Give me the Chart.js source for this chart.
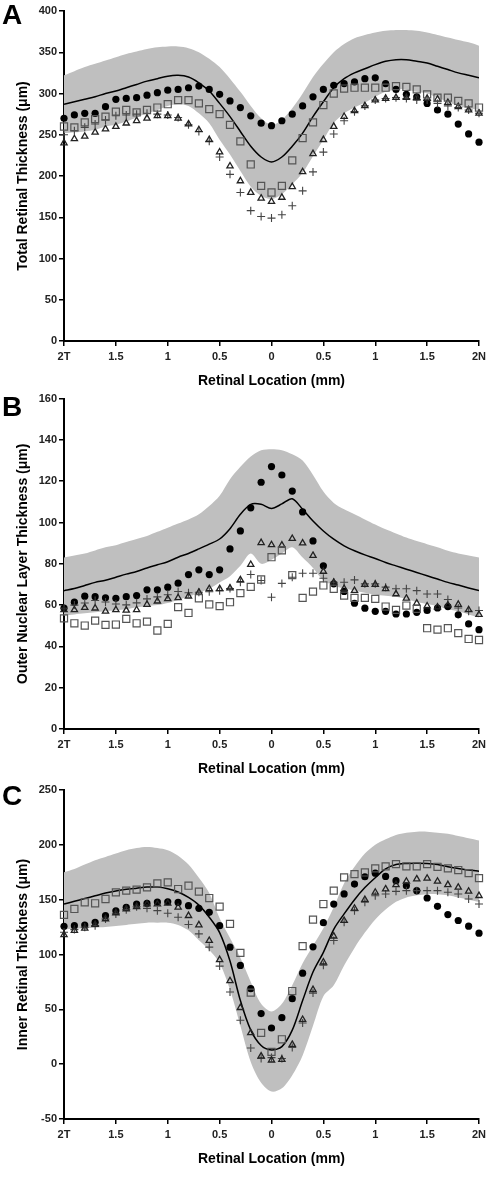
<!DOCTYPE html>
<html>
<head>
<meta charset="utf-8">
<script src="https://cdn.jsdelivr.net/npm/chart.js@4/dist/chart.umd.min.js"></script>
<style>
  body { margin: 0; background: #fff; width: 492px; height: 1198px; position: relative; overflow: hidden; }
  .panel { position: absolute; left: 0; width: 492px; }
  .letter { position: absolute; left: 2px; font: bold 28px "Liberation Sans", Arial, sans-serif; line-height: 1; color: #000; }
</style>
</head>
<body>
<div class="panel" style="top:0;height:390px"><canvas id="chartA"></canvas></div>
<div class="panel" style="top:390px;height:388px"><canvas id="chartB"></canvas></div>
<div class="panel" style="top:778px;height:390px"><canvas id="chartC"></canvas></div>
<div class="letter" style="top:1px">A</div>
<div class="letter" style="top:393px">B</div>
<div class="letter" style="top:782px">C</div>
<script>
// retinal location, mm (negative = temporal, positive = nasal)
const loc = [-2, -1.9, -1.8, -1.7, -1.6, -1.5, -1.4, -1.3, -1.2, -1.1, -1, -0.9, -0.8, -0.7, -0.6, -0.5, -0.4, -0.3, -0.2, -0.1,
  0, 0.1, 0.2, 0.3, 0.4, 0.5, 0.6, 0.7, 0.8, 0.9, 1, 1.1, 1.2, 1.3, 1.4, 1.5, 1.6, 1.7, 1.8, 1.9, 2];

// A - total retinal thickness
const totalCircle = [270, 274, 276, 276, 284, 293, 294, 295, 298, 301, 304, 305, 307, 309, 305, 299, 291, 283, 273, 264,
  261, 267, 275, 285, 296, 305, 310, 312, 314, 318, 319, 312, 305, 299, 296, 288, 280, 275, 263, 251, 241];
const totalSquare = [260, 259, 265, 269, 272, 278, 280, 277, 280, 283, 287, 292, 292, 288, 281, 275, 262, 242, 214, 188,
  180, 188, 219, 246, 265, 286, 300, 306, 307, 307, 307, 307, 309, 308, 305, 299, 295, 295, 291, 288, 283];
const totalTriangle = [240, 245, 248, 253, 257, 260, 264, 267, 270, 273, 273, 270, 263, 256, 244, 229, 212, 194, 180, 173,
  169, 174, 187, 205, 227, 244, 260, 272, 279, 285, 292, 294, 295, 295, 295, 294, 293, 289, 284, 280, 276];
const totalPlus = [250, 255, 259, 263, 268, 273, 274, 275, 276, 275, 274, 271, 262, 254, 242, 223, 202, 180, 158, 151,
  149, 153, 164, 182, 205, 229, 251, 267, 278, 285, 292, 294, 295, 294, 292, 292, 288, 285, 283, 280, 276];
const totalMean = [287, 290, 293, 296, 300, 303, 307, 311, 315, 318, 321, 322, 320, 313, 303, 288, 272, 254, 236, 223,
  217, 223, 236, 252, 272, 290, 307, 318, 325, 330, 335, 339, 341, 341, 339, 337, 333, 329, 325, 322, 319];
const totalUpper = [322, 327, 332, 336, 340, 344, 348, 351, 354, 356, 357, 357, 355, 350, 342, 332, 318, 302, 285, 270,
  262, 268, 282, 300, 320, 336, 350, 360, 367, 371, 374, 376, 377, 377, 376, 374, 371, 368, 365, 362, 358];
const totalLower = [252, 253, 254, 256, 260, 262, 266, 271, 276, 280, 285, 287, 285, 276, 264, 244, 226, 206, 187, 176,
  172, 178, 190, 204, 224, 244, 264, 276, 283, 289, 296, 302, 305, 305, 302, 300, 295, 290, 285, 282, 280];

// B - outer nuclear layer thickness
const onlCircle = [58.6, 61.4, 64.3, 64.1, 63.5, 63.3, 64.1, 64.6, 67.4, 67.4, 68.7, 70.6, 74.8, 77.1, 74.8, 77.1, 87.2, 95.9, 107.1, 119.5,
  127.1, 123, 115.2, 105.1, 91.1, 79, 70.3, 66.6, 60.9, 58.5, 57, 57, 55.7, 55.7, 56.5, 57.4, 58.6, 59.3, 55.3, 50.9, 48.1];
const onlSquare = [53.6, 51.2, 50.1, 52.5, 50.4, 50.6, 53.3, 51.2, 52, 47.7, 50.9, 59, 56.2, 63.3, 60.3, 59.5, 61.4, 65.8, 68.8, 72.4,
  83.2, 86.5, 74.5, 63.5, 66.5, 69.5, 67.9, 64.6, 63.5, 63.5, 63, 59.3, 57.7, 59.8, 58.2, 48.8, 48.1, 48.8, 46.4, 43.6, 43.1];
const onlTriangle = [57.7, 57.7, 58.8, 58.5, 57, 57.7, 57.5, 57.7, 60.3, 61.9, 63, 63.5, 64.3, 66.2, 67.9, 67.9, 68.2, 72.2, 79.6, 90.2,
  89.2, 89, 92.2, 90, 84, 76.3, 71, 68, 67, 70, 70, 67.9, 65.4, 63.3, 60.9, 59.5, 59, 60, 60.3, 57.7, 55.4];
const onlPlus = [58.5, 60, 61, 62.2, 61.5, 60.5, 60.1, 61.1, 63, 64, 65, 66.6, 66, 66.2, 66.5, 67, 68, 71.1, 74.8, 71.9,
  63.8, 70.5, 73.5, 75.4, 75.4, 73, 71.1, 71.1, 72.2, 70.3, 70.3, 68.7, 67.9, 67.9, 67, 65.4, 65.4, 62.7, 58.6, 57, 57.4];
const onlMean = [67, 68, 69.5, 71, 72, 73.5, 75, 76.3, 78, 79.5, 81, 83.2, 85, 87.2, 89.5, 92, 97, 104, 108.8, 108.8,
  106.8, 109, 111.5, 106.4, 100.7, 95.9, 91.9, 88.7, 86.3, 84.3, 82.6, 80.6, 79, 77.4, 75.8, 74.2, 72.6, 71, 69.7, 68.3, 67];
const onlUpper = [83, 84, 85, 86.5, 88, 89, 90.5, 92, 93.5, 95.5, 97.5, 99.5, 101.5, 104, 108, 113, 121, 127, 132, 135,
  135.5, 135, 133, 130, 123, 115, 109.5, 106.4, 104, 101.5, 99, 96.7, 94.7, 92.7, 91, 89.5, 88, 86.3, 85, 84, 83];
const onlLower = [55, 55.5, 56, 56.5, 57, 57.5, 58, 59, 59.5, 60, 61, 62.5, 64, 66, 68, 71, 74, 79, 85, 80,
  82, 85, 88, 83, 78, 72, 69.5, 68, 67, 66, 65, 64.5, 64, 63, 61.5, 60.5, 59.5, 58, 57, 55.5, 54];

// C - inner retinal thickness
const innerCircle = [125.7, 126.3, 126.9, 129.3, 135.4, 139.9, 143, 146, 146.6, 147.8, 148.1, 147.5, 144.5, 142.1, 138.5, 126.3, 106.7, 90, 68.8, 46.1,
  33, 42.4, 59.7, 83, 107, 129, 146, 155.2, 164.2, 170.9, 174.2, 171.2, 167.3, 162.7, 158.2, 151.5, 143.9, 136.4, 131, 125.8, 119.4];
const innerSquare = [136.1, 141.5, 147.6, 146.7, 150.6, 156.7, 158.2, 159.1, 161.2, 164.8, 165.8, 159.7, 162.7, 157.3, 151.5, 143.6, 127.9, 101.5, 65.2, 28.5,
  11.2, 22.7, 66.7, 107.6, 131.8, 146, 158.2, 170.3, 173.3, 174.8, 178.5, 180.3, 182.4, 180.3, 180.3, 182.4, 180, 178.5, 177, 174.2, 169.7];
const innerTriangle = [117.9, 121.8, 123.9, 127.3, 132.4, 137.9, 141.5, 143.6, 146, 146, 146.6, 143, 135.4, 126.9, 112.7, 95.2, 76, 51.5, 28.5, 7.3,
  3.6, 4.2, 17.9, 40.6, 67.9, 93, 116.7, 130.9, 142.1, 150, 156.7, 159.7, 163.6, 166.7, 168.8, 169.4, 166.7, 163.6, 161.2, 157.6, 153.6];
const innerPlus = [120.3, 122.7, 124.8, 126.3, 132.4, 137, 140.9, 143.6, 142.1, 140, 137.6, 133.9, 127.3, 118.8, 106.7, 89.4, 65.8, 40, 14.8, 5.2,
  6, 5.2, 15.2, 37.6, 64.8, 90.3, 112.7, 129.4, 140, 147.6, 153.6, 155.2, 157.6, 158.2, 158.2, 158.2, 158.2, 156.7, 155.2, 150.6, 146];
const innerMean = [146, 148.5, 151, 153.5, 156, 158, 159.5, 160.5, 161.5, 161.5, 160, 157, 152, 145, 134, 120, 94, 58, 31, 17,
  13, 16, 31, 58, 84, 102, 123, 137, 150, 161, 170, 178, 182, 183, 183.3, 183, 182, 180, 178.5, 177, 176];
const innerUpper = [175, 178, 182, 186, 189, 192, 195, 197, 198, 197, 195, 190, 182, 170, 156, 133, 115, 97, 75, 55,
  48, 55, 72, 92, 108, 124, 143, 165, 180, 192, 200, 205, 209, 211, 212, 212, 211, 210, 208, 206, 204];
const innerLower = [123, 123.5, 124, 124.5, 125, 126, 127, 128, 129, 129, 129, 127, 122, 113, 104, 92, 68, 35, 2, -17,
  -25, -22, -10, 8, 35, 62, 72, 90, 106, 120, 132, 141, 148, 152, 154, 155, 155, 154, 152, 150, 148];

const xTicks = { '-2': '2T', '2': '2N' };
const font = 'Liberation Sans';

function pts(arr) {
  return arr.map((v, i) => ({ x: loc[i], y: v }));
}

function marker(arr, style, radius, fill, stroke, width) {
  return {
    data: pts(arr), showLine: false, order: 0, clip: 8,
    pointStyle: style, pointRadius: radius, pointBackgroundColor: fill,
    pointBorderColor: stroke, pointBorderWidth: width
  };
}

function makeChart(id, s) {
  new Chart(document.getElementById(id), {
    type: 'line',
    data: {
      datasets: [
        { data: pts(s.upper), fill: '+1', backgroundColor: '#bfbfbf', borderWidth: 0, pointRadius: 0, order: 2, tension: 0.3 },
        { data: pts(s.lower), fill: false, borderWidth: 0, pointRadius: 0, order: 2, tension: 0.3 },
        { data: pts(s.mean), borderColor: '#000', borderWidth: 1.5, pointRadius: 0, fill: false, order: 1, tension: 0.3 },
        marker(s.square, 'rect', 5, 'rgba(0,0,0,0)', '#555', 1.2),
        marker(s.triangle, 'triangle', 3.6, 'rgba(0,0,0,0)', '#222', 1.3),
        marker(s.plus, 'cross', 4, 'rgba(0,0,0,0)', '#444', 1.1),
        marker(s.circle, 'circle', 3.6, '#000', '#000', 0)
      ]
    },
    options: {
      responsive: true,
      maintainAspectRatio: false,
      animation: false,
      layout: { autoPadding: false, padding: { top: s.padTop, right: 13, left: 0, bottom: 0 } },
      plugins: { legend: { display: false }, tooltip: { enabled: false } },
      scales: {
        x: {
          type: 'linear', min: -2, max: 2,
          afterFit: sc => { sc.height = 49; },
          border: { color: '#000', width: 2 },
          grid: { drawOnChartArea: false, drawTicks: true, tickLength: 5, color: '#000', lineWidth: 1.5 },
          ticks: {
            stepSize: 0.5, padding: 4, color: '#222', maxRotation: 0,
            font: { family: font, size: 11, weight: 'bold' },
            callback: v => xTicks[String(v)] || String(Math.abs(v))
          },
          title: { display: true, text: 'Retinal Location (mm)', color: '#000', padding: { top: 4, bottom: 0 },
            font: { family: font, size: 14, weight: 'bold' } }
        },
        y: {
          min: s.min, max: s.max,
          afterFit: sc => { sc.width = 64; },
          border: { color: '#000', width: 2 },
          grid: { drawOnChartArea: false, drawTicks: true, tickLength: 5, color: '#000', lineWidth: 1.5 },
          ticks: { stepSize: s.step, padding: 2, color: '#222', font: { family: font, size: 11, weight: 'bold' } },
          title: { display: true, text: s.title, color: '#000', padding: { top: 15, bottom: 0 },
            font: { family: font, size: 14, weight: 'bold' } }
        }
      }
    }
  });
}

makeChart('chartA', { circle: totalCircle, square: totalSquare, triangle: totalTriangle, plus: totalPlus,
  mean: totalMean, upper: totalUpper, lower: totalLower,
  min: 0, max: 400, step: 50, padTop: 11, title: 'Total Retinal Thickness (\u03bcm)' });
makeChart('chartB', { circle: onlCircle, square: onlSquare, triangle: onlTriangle, plus: onlPlus,
  mean: onlMean, upper: onlUpper, lower: onlLower,
  min: 0, max: 160, step: 20, padTop: 7, title: 'Outer Nuclear Layer Thickness (\u03bcm)' });
makeChart('chartC', { circle: innerCircle, square: innerSquare, triangle: innerTriangle, plus: innerPlus,
  mean: innerMean, upper: innerUpper, lower: innerLower,
  min: -50, max: 250, step: 50, padTop: 12, title: 'Inner Retinal Thickness (\u03bcm)' });
</script>
</body>
</html>
